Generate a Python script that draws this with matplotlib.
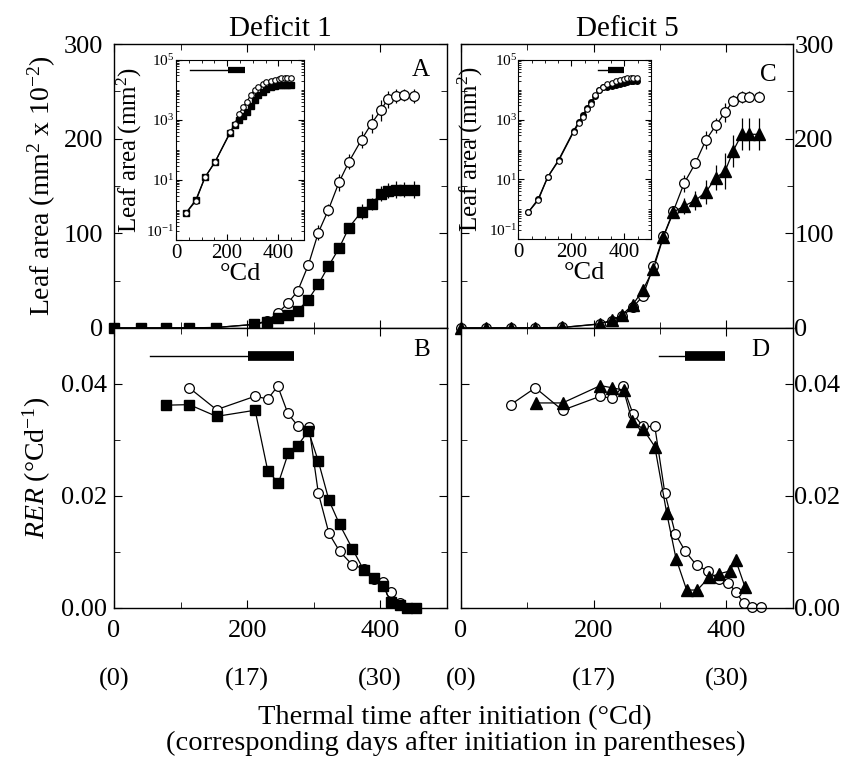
import matplotlib.pyplot as plt
import numpy as np
from matplotlib.ticker import MultipleLocator, LogLocator, NullFormatter, FixedLocator
from matplotlib.transforms import blended_transform_factory

plt.rcParams['font.family'] = 'Liberation Serif'
plt.rcParams['mathtext.fontset'] = 'custom'
plt.rcParams['mathtext.rm'] = 'Liberation Serif'
plt.rcParams['mathtext.it'] = 'Liberation Serif:italic'

# =========================
# Data
# =========================
# Leaf area (mm2 x 10^-2), Deficit 1
xa = [0, 40, 78, 113, 153, 211, 230, 246, 261, 276, 292, 307, 322, 338, 353, 372, 387, 401, 411, 424, 435, 450]
a_ctrl = [0, 0.008, 0.02, 0.12, 0.4, 3.8, 7.5, 15.5, 26, 39, 66.5, 100.7, 124.6, 153.8, 175.6, 199, 216, 230, 241.5, 245, 246, 245]
a_ctrl_err = [0] * 10 + [4, 8, 6, 9, 8, 9, 10, 11, 9, 7, 6, 7]
a_def = [0, 0.008, 0.022, 0.12, 0.4, 3.6, 6.5, 10.2, 13.7, 18.3, 30, 46, 65, 84, 106, 123, 131, 142, 145, 146, 146, 146]
a_def_err = [0] * 12 + [3, 4, 4, 8, 6, 8, 8, 9, 8, 9]

# Leaf area (mm2 x 10^-2), Deficit 5
xc = [0, 38, 75, 111, 152, 209, 228, 243, 259, 274, 290, 305, 320, 336, 353, 369, 384, 398, 410, 423, 434, 449]
c_ctrl = [0, 0.008, 0.02, 0.12, 0.42, 4.0, 7.5, 12.5, 22, 33.5, 65.3, 97, 123.5, 152.7, 173.9, 198.6, 214, 228, 240, 244, 244.5, 244.5]
c_ctrl_err = [0] * 11 + [4, 5, 9, 5, 10, 8, 10, 6, 6, 6, 6]
c_def = [0, 0.008, 0.022, 0.12, 0.45, 4.3, 8.5, 14, 24.6, 40, 62.4, 96.3, 122.4, 128.8, 134.7, 143.6, 158.7, 165.8, 187, 204.6, 204.6, 204.6]
c_def_err = [0] * 10 + [3, 6, 5, 8, 10, 13, 13, 19, 17, 17, 17, 17]

# RER, Deficit 1
xb_ctrl = [113, 154, 212, 231, 246, 261, 276, 293, 307, 323, 339, 358, 375, 390, 404, 416, 429, 440]
b_ctrl = [0.0393, 0.0354, 0.0378, 0.0373, 0.0396, 0.0348, 0.0325, 0.0323, 0.0205, 0.0133, 0.0101, 0.0077, 0.0070, 0.0052, 0.0046, 0.0028, 0.0009, 0.0]
xb_def = [78, 113, 154, 212, 231, 247, 262, 276, 292, 307, 323, 339, 358, 375, 390, 404, 416, 429, 440, 454]
b_def = [0.0362, 0.0363, 0.0342, 0.0353, 0.0245, 0.0223, 0.0277, 0.0290, 0.0316, 0.0262, 0.0192, 0.0149, 0.0106, 0.0068, 0.0053, 0.0040, 0.0011, 0.0005, 0.0, 0.0]

# RER, Deficit 5
xd_ctrl = [75, 112, 153, 210, 228, 244, 259, 274, 292, 307, 323, 338, 355, 372, 388, 403, 414, 426, 439, 452]
d_ctrl = [0.0363, 0.0393, 0.0353, 0.0378, 0.0374, 0.0396, 0.0347, 0.0324, 0.0324, 0.0206, 0.0132, 0.0101, 0.0076, 0.0066, 0.0051, 0.0044, 0.0029, 0.0008, 0.0001, 0.0001]
xd_def = [113, 153, 210, 228, 245, 258, 274, 292, 310, 324, 340, 356, 374, 389, 405, 414, 428]
d_def = [0.0366, 0.0366, 0.0397, 0.0393, 0.0389, 0.0333, 0.0320, 0.0288, 0.0169, 0.0088, 0.0032, 0.0032, 0.0055, 0.0061, 0.0066, 0.0085, 0.0037]

# treatment periods (thin = mild, thick = severe)
d1_thin, d1_thick = (54, 202), (202, 271)
d5_thin, d5_thick = (299, 337), (337, 397)

day_ticks = [0, 200, 400]
day_labels = ["(0)", "(17)", "(30)"]

# =========================
# Figure
# =========================
fig = plt.figure(figsize=(8.51, 7.59), dpi=100)

axA = fig.add_axes([0.134, 0.568, 0.391, 0.374])
axB = fig.add_axes([0.134, 0.199, 0.391, 0.369])
axC = fig.add_axes([0.5417, 0.568, 0.390, 0.374])
axD = fig.add_axes([0.5417, 0.199, 0.390, 0.369])

FS = 19      # tick labels
LFS = 20     # axis labels
TFS = 21     # titles


def style_axis(ax):
    ax.set_xlim(0, 500)
    ax.xaxis.set_major_locator(MultipleLocator(200))
    ax.xaxis.set_minor_locator(MultipleLocator(100))
    ax.tick_params(which="both", direction="in", top=True, right=True, labelsize=FS)
    ax.tick_params(which="major", length=6)
    ax.tick_params(which="minor", length=4)
    ax.tick_params(axis="x", pad=9)
    ax.tick_params(axis="y", pad=8)
    for s in ax.spines.values():
        s.set_linewidth(1.0)


def errline(ax, x, y, err, **kw):
    ax.errorbar(x, y, yerr=err, color="black", lw=0.9, elinewidth=0.9, capsize=0, clip_on=False, **kw)


open_kw = dict(marker="o", ms=7, mfc="white", mec="black", mew=0.9)

# ---- A: leaf area, deficit 1
errline(axA, xa, a_ctrl, a_ctrl_err, **open_kw)
errline(axA, xa, a_def, a_def_err, marker="s", ms=7, mfc="black", mec="black")
axA.set_ylim(0, 300)
axA.yaxis.set_major_locator(MultipleLocator(100))
axA.yaxis.set_minor_locator(MultipleLocator(50))
style_axis(axA)
axA.tick_params(labelbottom=False)
axA.set_ylabel(r"Leaf area (mm$^2$ x 10$^{-2}$)", fontsize=LFS, labelpad=4)
axA.set_title("Deficit 1", fontsize=TFS, pad=6)
axA.text(0.95, 0.91, "A", transform=axA.transAxes, fontsize=18, ha="right", va="center")

# ---- C: leaf area, deficit 5
errline(axC, xc, c_ctrl, c_ctrl_err, **open_kw)
errline(axC, xc, c_def, c_def_err, marker="^", ms=8.5, mfc="black", mec="black")
axC.set_ylim(0, 300)
axC.yaxis.set_major_locator(MultipleLocator(100))
axC.yaxis.set_minor_locator(MultipleLocator(50))
style_axis(axC)
axC.tick_params(labelbottom=False, labelleft=False, labelright=True)
axC.tick_params(axis="y", pad=1)
axC.set_title("Deficit 5", fontsize=TFS, pad=6)
axC.text(0.95, 0.89, "C", transform=axC.transAxes, fontsize=18, ha="right", va="center")

# ---- B: RER, deficit 1
axB.plot(xb_ctrl, b_ctrl, color="black", lw=0.9, clip_on=False, **open_kw)
axB.plot(xb_def, b_def, color="black", lw=0.9, marker="s", ms=7, mfc="black", mec="black", clip_on=False)
axB.plot(d1_thin, [0.045, 0.045], color="black", lw=1)
axB.plot(d1_thick, [0.045, 0.045], color="black", lw=7, solid_capstyle="butt")
axB.set_ylim(0, 0.05)
axB.yaxis.set_major_locator(FixedLocator([0, 0.02, 0.04]))
axB.yaxis.set_minor_locator(FixedLocator([0.01, 0.03]))
axB.yaxis.set_major_formatter(plt.FuncFormatter(lambda v, p: f"{v:.2f}"))
style_axis(axB)
axB.tick_params(axis="y", pad=5)
axB.set_ylabel(r"$\it{RER}$ ($\degree$Cd$^{-1}$)", fontsize=LFS, labelpad=6)
axB.text(0.95, 0.92, "B", transform=axB.transAxes, fontsize=18, ha="right", va="center")

# ---- D: RER, deficit 5
axD.plot(xd_ctrl, d_ctrl, color="black", lw=0.9, clip_on=False, **open_kw)
axD.plot(xd_def, d_def, color="black", lw=0.9, marker="^", ms=8.5, mfc="black", mec="black", clip_on=False)
axD.plot(d5_thin, [0.045, 0.045], color="black", lw=1)
axD.plot(d5_thick, [0.045, 0.045], color="black", lw=7, solid_capstyle="butt")
axD.set_ylim(0, 0.05)
axD.yaxis.set_major_locator(FixedLocator([0, 0.02, 0.04]))
axD.yaxis.set_minor_locator(FixedLocator([0.01, 0.03]))
axD.yaxis.set_major_formatter(plt.FuncFormatter(lambda v, p: f"{v:.2f}"))
style_axis(axD)
axD.tick_params(labelleft=False, labelright=True)
axD.tick_params(axis="y", pad=1)
axD.text(0.93, 0.92, "D", transform=axD.transAxes, fontsize=18, ha="right", va="center")

# days in parentheses under the bottom panels
for ax in (axB, axD):
    tr = blended_transform_factory(ax.transData, ax.transAxes)
    for t, lab in zip(day_ticks, day_labels):
        ax.text(t, -0.257, lab, transform=tr, ha="center", va="center", fontsize=FS)

fig.text(0.535, 0.055, "Thermal time after initiation (\u00b0Cd)", ha="center", va="center", fontsize=20.5)
fig.text(0.535, 0.004, "(corresponding days after initiation in parentheses)", ha="center", va="bottom", fontsize=20.5)

# =========================
# Insets (log scale)
# =========================
insA = fig.add_axes([0.2068, 0.684, 0.1504, 0.2372])
insC = fig.add_axes([0.609, 0.685, 0.156, 0.236])

for ins, x, ctrl, dfc, mk, thin, thick in (
    (insA, xa, a_ctrl, a_def, "s", d1_thin, d1_thick),
    (insC, xc, c_ctrl, c_def, "o", d5_thin, d5_thick),
):
    xs = np.array(x[1:])
    ins.plot(xs, np.array(dfc[1:]) * 100, color="black", lw=0.9, marker=mk, ms=4, mfc="black", mec="black")
    ins.plot(xs, np.array(ctrl[1:]) * 100, color="black", lw=0.9, marker="o", ms=4, mfc="white", mec="black", mew=0.8)
    ins.plot(thin, [4.5e4, 4.5e4], color="black", lw=1)
    ins.plot(thick, [4.5e4, 4.5e4], color="black", lw=4.5, solid_capstyle="butt")
    ins.set_yscale("log")
    ins.set_ylim(0.1, 1e5)
    ins.set_xlim(0, 500)
    ins.yaxis.set_major_locator(FixedLocator([0.1, 10, 1000, 1e5]))
    ins.yaxis.set_minor_locator(LogLocator(base=10, subs="all", numticks=20))
    ins.yaxis.set_minor_formatter(NullFormatter())
    ins.xaxis.set_major_locator(MultipleLocator(200))
    ins.xaxis.set_minor_locator(MultipleLocator(50))
    ins.tick_params(which="both", direction="in", top=True, right=True, pad=2)
    ins.tick_params(axis="x", labelsize=15, pad=3)
    ins.tick_params(axis="y", labelsize=11, pad=1)
    ins.tick_params(which="major", length=4)
    ins.tick_params(which="minor", length=2)
    # lowest decade label sits a little above its tick, clear of the "0"
    ins.yaxis.get_major_ticks()[0].label1.set_verticalalignment("bottom")
    ins.set_ylabel(r"Leaf area (mm$^2$)", fontsize=18)
    ins.yaxis.set_label_coords(-0.25, 0.5)
    ins.set_xlabel("\u00b0Cd", fontsize=19)
    ins.xaxis.set_label_coords(0.5, -0.13)

fig.savefig("out.png", dpi=100)
